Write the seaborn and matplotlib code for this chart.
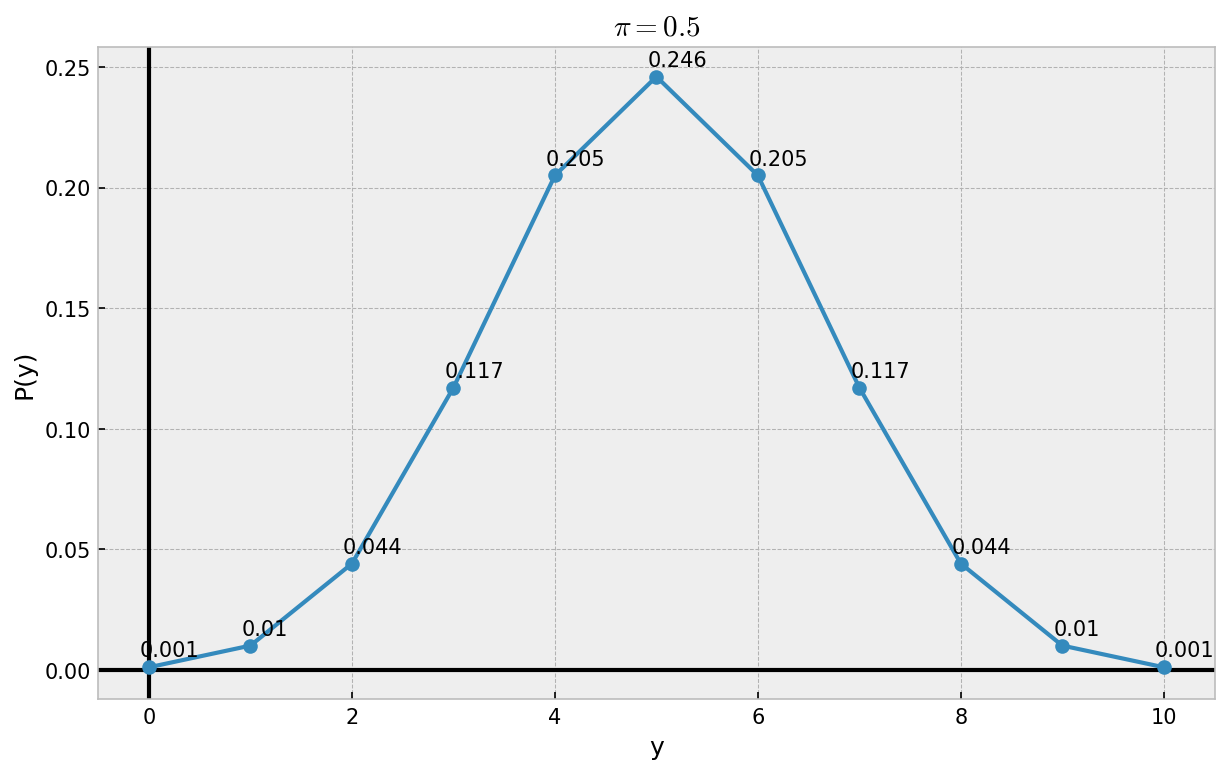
import matplotlib
matplotlib.use("Agg")
import matplotlib.pyplot as plt
import seaborn as sns
import pandas as pd

# binomial pmf, n=10, pi=0.5 (rounded as labelled)
y_vals = [0, 1, 2, 3, 4, 5, 6, 7, 8, 9, 10]
p_vals = [0.001, 0.01, 0.044, 0.117, 0.205, 0.246, 0.205, 0.117, 0.044, 0.01, 0.001]
title = r"$\pi = 0.5$"

plt.style.use("bmh")
plt.rcParams["mathtext.fontset"] = "cm"

df = pd.DataFrame({"y": y_vals, "P(y)": p_vals})

fig, ax = plt.subplots(figsize=(8.187, 5.153), dpi=150)
fig.subplots_adjust(left=0.080, right=0.989, top=0.938, bottom=0.094)
ax.set_axisbelow(True)

ax.axhline(0, color="black", lw=2, ls="-", zorder=2)
ax.axvline(0, color="black", lw=2, ls="-", zorder=2)
sns.lineplot(data=df, x="y", y="P(y)", marker="o", color="#348ABD",
             markeredgewidth=0, markersize=7, lw=2, ax=ax, zorder=3)

for x, p in zip(y_vals, p_vals):
    ax.text(x - 0.09, p + 0.0045, str(p), fontsize=10)

ax.set_title(title, fontsize=14)
ax.set_xlabel("y", fontsize=12)
ax.set_ylabel("P(y)", fontsize=12)

fig.savefig("out.png", dpi=150)
